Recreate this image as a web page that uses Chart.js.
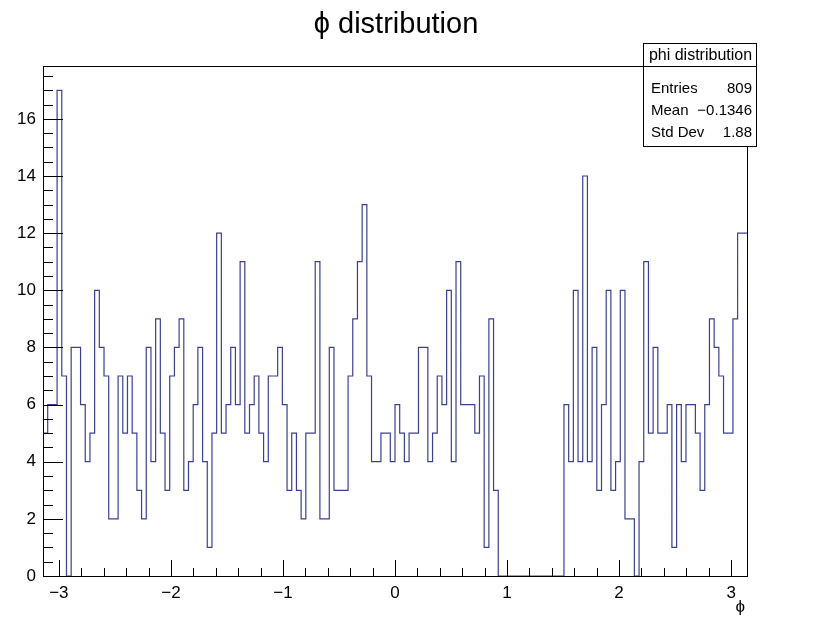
<!doctype html>
<html>
<head>
<meta charset="UTF-8">
<title>phi distribution</title>
<script src="https://cdn.jsdelivr.net/npm/chart.js@4.4.1/dist/chart.umd.min.js"></script>
<style>
body { margin: 0; background: #fff; }
#wrap { width: 816px; height: 620px; }
</style>
</head>
<body>
<div id="wrap"><canvas id="phiChart" width="816" height="620"></canvas></div>

<script>
// histogram: 150 bins from -pi to pi
var nBins = 150;
var phiMin = -Math.PI;
var phiMax = Math.PI;

// bin contents
var counts = [
  7, 5, 6, 6, 17, 7, 0, 8, 8, 6,
  4, 5, 10, 8, 7, 2, 2, 7, 5, 7,
  5, 3, 2, 8, 4, 9, 5, 3, 7, 8,
  9, 3, 4, 6, 8, 4, 1, 5, 12, 5,
  6, 8, 6, 11, 5, 6, 7, 5, 4, 7,
  7, 8, 6, 3, 5, 3, 2, 5, 5, 11,
  2, 2, 8, 3, 3, 3, 7, 9, 11, 13,
  7, 4, 4, 5, 5, 4, 6, 5, 4, 5,
  5, 8, 8, 4, 5, 7, 6, 10, 4, 11,
  6, 6, 6, 5, 7, 1, 9, 3, 0, 0,
  0, 0, 0, 0, 0, 0, 0, 0, 0, 0,
  0, 0, 6, 4, 10, 4, 14, 4, 8, 3,
  6, 10, 3, 4, 10, 2, 2, 0, 4, 11,
  5, 8, 5, 5, 6, 1, 6, 4, 6, 6,
  5, 3, 6, 9, 8, 7, 5, 5, 9, 12
];

var xTicks = [-3, -2, -1, 0, 1, 2, 3];
var yTicks = [0, 2, 4, 6, 8, 10, 12, 14, 16];
var yMax = 17.85;

var statsTitle = 'phi distribution';
var statsNames = ['Entries', 'Mean', 'Std Dev'];
var statsValues = ['809', '\u22120.1346', '1.88'];

var FONT = "'Liberation Sans', Arial, 'DejaVu Sans', sans-serif";

// step outline points at the bin edges
var points = [];
var w = (phiMax - phiMin) / nBins;
for (var i = 0; i < nBins; i++) {
  points.push({x: phiMin + i * w, y: counts[i]});
}
points.push({x: phiMax, y: counts[nBins - 1]});

function minus(v) {
  return String(v).replace('-', '\u2212');
}

// frame, inward ticks, title, stats box
var rootStyle = {
  id: 'rootStyle',
  afterDraw: function(chart) {
    var c = chart.ctx, a = chart.chartArea;
    var xs = chart.scales.x, ys = chart.scales.y;
    c.save();
    c.strokeStyle = '#000';
    c.lineWidth = 1;

    // ticks on x axis
    c.beginPath();
    for (var k = -16; k <= 16; k++) {
      var v = k * 0.2;
      if (v < phiMin || v > phiMax) continue;
      var px = Math.round(xs.getPixelForValue(v)) + 0.5;
      var len = (k % 5 === 0) ? 16 : 8;
      c.moveTo(px, a.bottom);
      c.lineTo(px, a.bottom - len);
    }
    // ticks on y axis
    for (var m = 0; m * 0.5 <= yMax; m++) {
      var py = Math.round(ys.getPixelForValue(m * 0.5)) + 0.5;
      var l2 = (m % 4 === 0) ? 20 : 10;
      c.moveTo(a.left, py);
      c.lineTo(a.left + l2, py);
    }
    c.stroke();

    c.strokeRect(Math.round(a.left) + 0.5, Math.round(a.top) + 0.5,
                 Math.round(a.right - a.left), Math.round(a.bottom - a.top));

    // title
    c.fillStyle = '#000';
    c.font = '29px ' + FONT;
    c.textAlign = 'center';
    c.textBaseline = 'alphabetic';
    c.fillText('\u03d5 distribution', 396, 33);

    // axis title
    c.font = '17px ' + FONT;
    c.textAlign = 'right';
    c.fillText('\u03d5', a.right - 2, 612);

    // stats box
    var bx = 643, by = 43, bw = 113, bh = 103;
    c.fillStyle = '#fff';
    c.fillRect(bx, by, bw, bh);
    c.strokeRect(bx + 0.5, by + 0.5, bw, bh);
    c.beginPath();
    c.moveTo(bx, by + 23.5);
    c.lineTo(bx + bw, by + 23.5);
    c.stroke();
    c.fillStyle = '#000';
    c.font = '16px ' + FONT;
    c.textAlign = 'center';
    c.fillText(statsTitle, bx + bw / 2 + 1, by + 17);
    c.font = '15px ' + FONT;
    for (var r = 0; r < statsNames.length; r++) {
      var ty = by + 50 + r * 22;
      c.textAlign = 'left';
      c.fillText(statsNames[r], bx + 8, ty);
      c.textAlign = 'right';
      c.fillText(statsValues[r], bx + bw - 4, ty);
    }
    c.restore();
  }
};

var ctx = document.getElementById('phiChart');
var phiChart = new Chart(ctx, {
  type: 'line',
  data: {
    datasets: [{
      data: points,
      stepped: 'after',
      borderColor: '#3b4190',
      borderWidth: 1.2,
      pointRadius: 0,
      fill: false
    }]
  },
  options: {
    responsive: false,
    animation: false,
    layout: { padding: { left: 0, right: 69, top: 66, bottom: 0 } },
    plugins: {
      legend: { display: false },
      tooltip: { enabled: false }
    },
    scales: {
      x: {
        type: 'linear',
        min: phiMin,
        max: phiMax,
        grid: { display: false, drawTicks: false },
        border: { display: false },
        afterBuildTicks: function(s) {
          s.ticks = xTicks.map(function(v) { return {value: v}; });
        },
        afterFit: function(s) { s.height = 44; },
        ticks: {
          autoSkip: false,
          maxRotation: 0,
          padding: 7,
          color: '#000',
          font: { family: FONT, size: 17 },
          callback: function(v) { return minus(v); }
        }
      },
      y: {
        min: 0,
        max: yMax,
        grid: { display: false, drawTicks: false },
        border: { display: false },
        afterBuildTicks: function(s) {
          s.ticks = yTicks.map(function(v) { return {value: v}; });
        },
        afterFit: function(s) { s.width = 43; },
        ticks: {
          autoSkip: false,
          padding: 7,
          color: '#000',
          font: { family: FONT, size: 17 },
          callback: function(v) { return minus(v); }
        }
      }
    }
  },
  plugins: [rootStyle]
});
</script>
</body>
</html>
